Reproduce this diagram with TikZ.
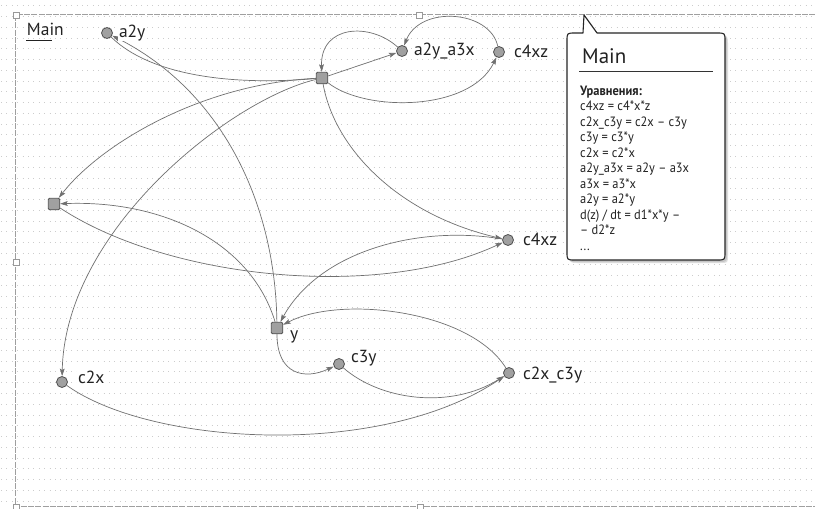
\documentclass[tikz,border=0pt]{standalone}
\usepackage{fontspec}
\setmainfont{PT Sans}
\newfontfamily\condfont[FakeStretch=0.92]{PT Sans}
\usetikzlibrary{arrows.meta}
\definecolor{edgec}{HTML}{707070}
\definecolor{nodefill}{HTML}{A0A0A0}
\definecolor{nodedraw}{HTML}{505050}
\definecolor{gridc}{HTML}{CCCCCC}
\definecolor{txt}{HTML}{222222}
\tikzset{
  conn/.style={draw=edgec, line width=0.7pt, -{Stealth[length=7.5pt,width=4.8pt,inset=1.5pt]}},
  plainconn/.style={draw=edgec, line width=0.7pt},
  aux/.style={circle, fill=nodefill, draw=nodedraw, line width=0.8pt, minimum size=11pt, inner sep=0pt},
  stock/.style={rectangle, rounded corners=1.2pt, fill=nodefill, draw=nodedraw, line width=0.9pt, minimum size=11.5pt, inner sep=0pt},
  lab/.style={font=\fontsize{17.5}{20}\selectfont, text=txt, fill=white, inner sep=0.8pt, anchor=base west},
  body/.style={font=\condfont\fontsize{13.5}{15.5}\selectfont, text=txt, inner sep=0pt, anchor=base west},
  handle/.style={rectangle, draw=gray!80, fill=white, line width=0.6pt, minimum size=6pt, inner sep=0pt},
  framel/.style={draw=gray!75, line width=0.45pt, double=white, double distance=0.6pt, dash pattern=on 6pt off 1.2pt}
}
\begin{document}
\begin{tikzpicture}[x=1pt,y=-1pt]
\useasboundingbox (0,0) rectangle (815,509);
\fill[white] (0,0) rectangle (815,509);
% dot grid
\foreach \k in {0,...,47}{
  \draw[gridc, line width=0.9pt, dash pattern=on 0.9pt off 4.5pt] (1,5.7+10.77*\k) -- (815,5.7+10.77*\k);
}
% frame
\draw[framel] (815,15) -- (16,15) -- (16,507) -- (815,507);
\node[handle] (h1) at (16,15) {};
\node[handle] (h2) at (419,15) {};
\node[handle] (h3) at (16,262) {};
\node[handle] (h4) at (16,507) {};
\node[handle] (h5) at (420,507) {};
% title
\node[lab, fill=none] (mainlab) at (26,35) {Main};
\draw[txt, line width=0.7pt] (26,40) -- (52,40);
% nodes
\node[aux] (na2y) at (107,33) {};
\node[aux] (na2ya3x) at (402,51) {};
\node[aux] (nc4a) at (499,52) {};
\node[aux] (nc4b) at (508,240) {};
\node[aux] (nc3y) at (339,364) {};
\node[aux] (nc2x) at (62,382) {};
\node[aux] (nc2xc3y) at (509,373) {};
\node[stock] (nx) at (322,78) {};
\node[stock] (nz) at (54,204) {};
\node[stock] (ny) at (277,328) {};
% edges
\draw[conn] (ny) .. controls (275,200) and (220,90) .. (na2y);
\draw[plainconn] (na2y) .. controls (150,75) and (230,86) .. (nx);
\draw[conn] (nx) .. controls (200,84) and (100,145) .. (nz);
\draw[conn] (nx) .. controls (230,100) and (65,230) .. (nc2x);
\draw[conn] (nx) .. controls (335,150) and (400,215) .. (nc4b);
\draw[conn] (nx) -- (na2ya3x);
\draw[conn] (na2ya3x) .. controls (370,22) and (320,25) .. (nx);
\draw[conn] (nc4a) .. controls (490,10) and (420,5) .. (na2ya3x);
\draw[conn] (nx) .. controls (365,112) and (470,112) .. (nc4a);
\draw[conn] (nc4b) .. controls (420,225) and (320,250) .. (ny);
\draw[conn] (nz) .. controls (170,280) and (380,300) .. (nc4b);
\draw[conn] (ny) .. controls (250,240) and (160,200) .. (nz);
\draw[conn] (nc2xc3y) .. controls (470,310) and (340,295) .. (ny);
\draw[conn] (ny) .. controls (277,375) and (305,380) .. (nc3y);
\draw[conn] (nc3y) .. controls (380,400) and (450,410) .. (nc2xc3y);
\draw[conn] (nc2x) .. controls (150,445) and (380,460) .. (nc2xc3y);
% labels
\node[lab] (la2y) at (118,37) {a2y};
\node[lab] (la2ya3x) at (413,55) {a2y\_a3x};
\node[lab] (lc4a) at (513,57) {c4xz};
\node[lab] (lc4b) at (522,245) {c4xz};
\node[lab] (lc3y) at (350,362) {c3y};
\node[lab] (lc2x) at (77,383) {c2x};
\node[lab] (lc2xc3y) at (522,379) {c2x\_c3y};
\node[lab] (ly) at (289,339) {y};
% callout
\fill[gray!25] (586,36) -- (587,18) -- (600,36) -- (720,36) .. controls (728,36) .. (728,44) -- (728,255) .. controls (728,263) .. (720,263) -- (578,263) .. controls (570,263) .. (570,255) -- (570,44) .. controls (570,36) .. (578,36) -- cycle;
\fill[gray!45] (585,35) -- (586,17) -- (599,35) -- (719,35) .. controls (727,35) .. (727,43) -- (727,254) .. controls (727,262) .. (719,262) -- (577,262) .. controls (569,262) .. (569,254) -- (569,43) .. controls (569,35) .. (577,35) -- cycle;
\draw[fill=white, draw=black!85, line width=1.1pt, line join=round] (583,33) -- (584,15) -- (597,33) -- (717,33) .. controls (725,33) .. (725,41) -- (725,252) .. controls (725,260) .. (717,260) -- (575,260) .. controls (567,260) .. (567,252) -- (567,41) .. controls (567,33) .. (575,33) -- cycle;
\node[lab, fill=none, font=\fontsize{21}{24}\selectfont, inner sep=0pt] (ctitle) at (582,63) {Main};
\draw[black!80, line width=0.9pt] (579,71) -- (713,71);
\node[body, font=\condfont\bfseries\fontsize{13.5}{15.5}\selectfont] (t1) at (580,95) {Уравнения:};
\node[body] (t2) at (580,110.55) {c4xz = c4*x*z};
\node[body] (t3) at (580,126.1) {c2x\_c3y = c2x – c3y};
\node[body] (t4) at (580,141.65) {c3y = c3*y};
\node[body] (t5) at (580,157.2) {c2x = c2*x};
\node[body] (t6) at (580,172.75) {a2y\_a3x = a2y – a3x};
\node[body] (t7) at (580,188.3) {a3x = a3*x};
\node[body] (t8) at (580,203.85) {a2y = a2*y};
\node[body] (t9) at (580,219.4) {d(z) / dt = d1*x*y –};
\node[body] (t10) at (580,234.95) {– d2*z};
\node[body] (t11) at (580,250.5) {...};
\end{tikzpicture}
\end{document}
